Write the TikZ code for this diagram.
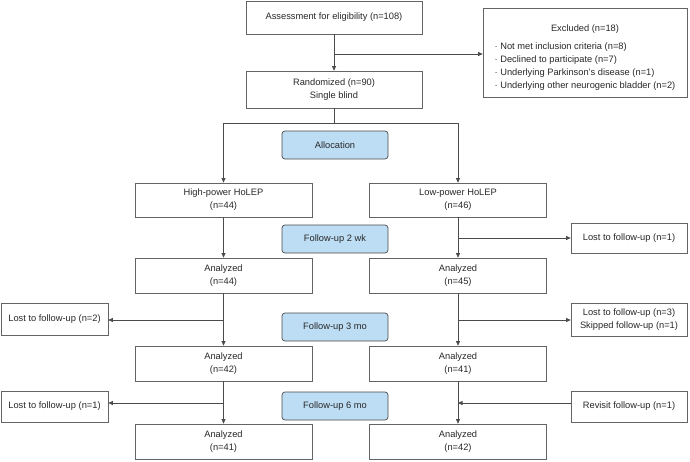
\documentclass[tikz,border=0pt]{standalone}
\usepackage{fontspec}
\setmainfont{Liberation Sans}
\usetikzlibrary{positioning, arrows.meta, calc}
\definecolor{FLOWtext}{RGB}{40, 40, 40}
\definecolor{FLOWline}{RGB}{75, 75, 75}
\definecolor{FLOWbox}{RGB}{100, 100, 100}
\definecolor{FLOWblue}{RGB}{189, 221, 244}

\begin{document}
\begin{tikzpicture}[x=1pt, y=-1pt,
		every node/.style={font=\fontsize{9.3}{13}\selectfont, text=FLOWtext},
		box/.style={shape=rectangle, draw=FLOWbox, fill=white, line width=0.7pt, minimum width=177pt, minimum height=35pt, inner sep=1pt, align=center},
		sidebox/.style={box, minimum width=116pt, minimum height=31pt},
		phase/.style={shape=rectangle, draw=FLOWline, fill=FLOWblue, line width=0.7pt, rounded corners=3pt, minimum width=106pt, minimum height=28pt},
		arr/.style={FLOWline, line width=0.7pt, -{Triangle[length=4.5pt, width=4pt]}},
		ln/.style={FLOWline, line width=0.7pt}]
		\useasboundingbox (0,0) rectangle (690,461);
		
		% Enrollment
		\node[box, minimum width=176pt, minimum height=33pt] (assess) at (334,17.5) {Assessment for eligibility (n=108)};
		\node[box, minimum width=204pt, minimum height=89pt] (excluded) at (585,52.5) {\raisebox{-5pt}[\height][\depth]{\begin{tabular}{@{}l@{}}\multicolumn{1}{@{}c@{}}{Excluded (n=18)}\\[5pt]
			· Not met inclusion criteria (n=8)\\
			· Declined to participate (n=7)\\
			· Underlying Parkinson’s disease (n=1)\\
			· Underlying other neurogenic bladder (n=2)\end{tabular}}};
		\node[box, minimum width=176pt, minimum height=37pt] (random) at (334,89.5) {Randomized (n=90)\\Single blind};
		\coordinate (exsplit) at (334,54);
		\draw[arr] (assess) -- (random);
		\draw[arr] (exsplit) -- (exsplit -| excluded.west);
		
		% Allocation
		\node[phase] (alloc) at (335,145) {Allocation};
		\node[box, minimum height=34pt] (high) at (223.5,200) {High-power HoLEP\\(n=44)};
		\node[box, minimum height=34pt] (low) at (458,200) {Low-power HoLEP\\(n=46)};
		\coordinate (split) at (334,123);
		\draw[ln] (random) -- (split);
		\draw[arr] (split) -| (high);
		\draw[arr] (split) -| (low);
		
		% Follow-up 2 wk
		\node[phase] (fuA) at (335,239) {Follow-up 2 wk};
		\node[sidebox, minimum height=30pt] (lostA) at (629,238) {Lost to follow-up (n=1)};
		\node[box] (highA) at (223.5,275.5) {Analyzed\\(n=44)};
		\node[box] (lowA) at (458,275.5) {Analyzed\\(n=45)};
		\coordinate (lowAsplit) at (458,238);
		\draw[arr] (high) -- (highA);
		\draw[arr] (low) -- (lowA);
		\draw[arr] (lowAsplit) -- (lowAsplit -| lostA.west);
		
		% Follow-up 3 mo
		\node[phase] (fuB) at (335,327) {Follow-up 3 mo};
		\node[sidebox, minimum width=107pt, minimum height=32pt] (highlostB) at (54.5,319) {Lost to follow-up (n=2)};
		\node[sidebox, minimum height=33pt] (lowlostB) at (629,319.5) {Lost to follow-up (n=3)\\Skipped follow-up (n=1)};
		\node[box] (highB) at (223.5,363.5) {Analyzed\\(n=42)};
		\node[box] (lowB) at (458,363.5) {Analyzed\\(n=41)};
		\coordinate (highBsplit) at (223.5,320);
		\coordinate (lowBsplit) at (458,320);
		\draw[arr] (highA) -- (highB);
		\draw[arr] (lowA) -- (lowB);
		\draw[arr] (highBsplit) -- (highBsplit -| highlostB.east);
		\draw[arr] (lowBsplit) -- (lowBsplit -| lowlostB.west);
		
		% Follow-up 6 mo
		\node[phase] (fuC) at (335,406) {Follow-up 6 mo};
		\node[sidebox, minimum width=107pt] (highlostC) at (54.5,406.5) {Lost to follow-up (n=1)};
		\node[sidebox] (revisit) at (629,406.5) {Revisit follow-up (n=1)};
		\node[box] (highC) at (223.5,441.5) {Analyzed\\(n=41)};
		\node[box] (lowC) at (458,441.5) {Analyzed\\(n=42)};
		\coordinate (highCsplit) at (223.5,403);
		\coordinate (lowCjoin) at (458,403);
		\draw[arr] (highB) -- (highC);
		\draw[arr] (lowB) -- (lowC);
		\draw[arr] (highCsplit) -- (highCsplit -| highlostC.east);
		\draw[arr] (revisit.west |- lowCjoin) -- (lowCjoin);
	\end{tikzpicture}
\end{document}
